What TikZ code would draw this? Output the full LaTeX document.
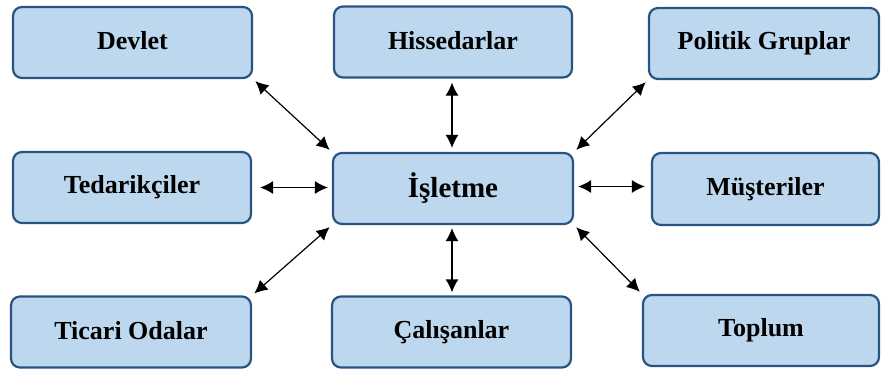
\documentclass[tikz,border=0pt]{standalone}
\usepackage{fontspec}
\setmainfont{Liberation Serif}
\usetikzlibrary{arrows.meta}
\definecolor{boxfill}{RGB}{189,215,238}
\definecolor{boxline}{RGB}{41,84,130}
\tikzset{
  box/.style={draw=boxline, fill=boxfill, line width=2.2pt, rounded corners=9pt,
    minimum height=71pt, inner sep=0pt, font=\fontsize{26}{30}\selectfont\bfseries},
  arr/.style={{Latex[length=13pt,width=13pt]}-{Latex[length=13pt,width=13pt]}, line width=1.2pt, black}
}
\begin{document}
\begin{tikzpicture}[x=1pt,y=-1pt]
\useasboundingbox (0,0) rectangle (881,369);
\node[box, minimum width=239pt] (devlet) at (132.5,42.5) {\raisebox{4pt}{Devlet}};
\node[box, minimum width=238pt] (hisse) at (453,42) {\raisebox{4pt}{Hissedarlar}};
\node[box, minimum width=230pt] (politik) at (764,43.5) {\raisebox{4pt}{Politik Gruplar}};
\node[box, minimum width=238pt] (tedarik) at (132,187.5) {\raisebox{2pt}{Tedarikçiler}};
\node[box, minimum width=240pt, font=\fontsize{29}{33}\selectfont\bfseries] (isletme) at (453,188.5) {\raisebox{3pt}{İşletme}};
\node[box, minimum width=227pt, minimum height=72pt] (musteri) at (765.5,189) {\raisebox{4pt}{Müşteriler}};
\node[box, minimum width=240pt] (ticari) at (131,332) {\raisebox{3pt}{Ticari Odalar}};
\node[box, minimum width=239pt] (calisan) at (451.5,332) {\raisebox{3pt}{Çalışanlar}};
\node[box, minimum width=236pt] (toplum) at (761,330.5) {\raisebox{4pt}{Toplum}};

\draw[arr, shorten <=3pt, shorten >=3pt] (devlet.south east) -- (isletme.north west);
\draw[arr, shorten <=4pt, shorten >=4pt] ([xshift=-1pt]hisse.south) -- ([xshift=-1pt]isletme.north);
\draw[arr, shorten <=3pt, shorten >=3pt] (politik.south west) -- (isletme.north east);
\draw[arr] ([xshift=8pt]tedarik.east) -- ([xshift=-4pt]tedarik.east -| isletme.west);
\draw[arr] ([xshift=4pt, yshift=2pt]isletme.east) -- ([xshift=-6pt, yshift=2pt]isletme.east -| musteri.west);
\draw[arr, shorten <=3pt, shorten >=3pt] (isletme.south west) -- (ticari.north east);
\draw[arr, shorten <=3pt, shorten >=3pt] ([xshift=-1pt]isletme.south) -- ([xshift=-1pt]isletme.south |- calisan.north);
\draw[arr, shorten <=3pt, shorten >=3pt] (isletme.south east) -- (toplum.north west);
\end{tikzpicture}
\end{document}
